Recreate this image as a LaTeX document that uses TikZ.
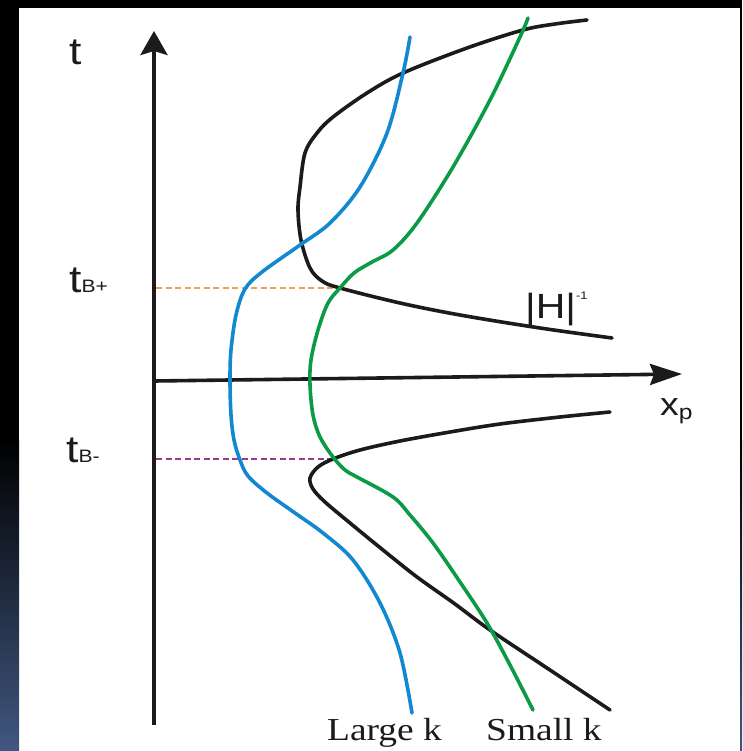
\documentclass[tikz,border=0pt]{standalone}
\usepackage{fontspec}
\setmainfont{Liberation Sans}
\newfontfamily\serifk{Liberation Serif}
\usetikzlibrary{arrows.meta}
\definecolor{ink}{HTML}{1C1A1A}
\definecolor{curveblue}{HTML}{1288D0}
\definecolor{curvegreen}{HTML}{0B9B46}
\definecolor{dashorange}{HTML}{F0A050}
\definecolor{dashpurple}{HTML}{9A3A88}
\definecolor{edgeblue}{RGB}{65,87,128}
\tikzset{
  axisline/.style={draw=ink, line width=3.6pt},
  curve/.style={line width=3.6pt, line cap=round, line join=round},
  hline/.style={line width=2.2pt, dash pattern=on 6pt off 3.5pt},
  lab/.style={inner sep=0pt, text=ink},
}
\newcommand{\hs}[1]{\scalebox{1.17}[1]{#1}}
\begin{document}
\begin{tikzpicture}[x=1pt,y=-1pt]
\useasboundingbox (0,0) rectangle (742,751);
% frame
\fill[white] (0,0) rectangle (742,751);
\fill[black] (0,0) rectangle (742,8);
\fill[black] (0,0) rectangle (19,440);
\shade[top color=black, bottom color=edgeblue] (0,440) rectangle (19,751);
\fill[black] (740,0) rectangle (742,440);
\shade[top color=black, bottom color=edgeblue] (740,440) rectangle (742,751);

% axes
\coordinate (tbot) at (154,725);
\coordinate (ttop) at (154,31);
\coordinate (xo) at (154,381);
\coordinate (xend) at (682,374);
\draw[axisline, -{Stealth[length=24pt,width=27pt,inset=4pt]}] (tbot) -- (ttop);
\draw[axisline, -{Stealth[length=32pt,width=21pt,inset=4pt]}] (xo) -- (xend);

% dashed level lines
\coordinate (tBpAxis) at (156,288);
\coordinate (tBpPt) at (340,288);
\coordinate (tBmAxis) at (156,459);
\coordinate (tBmPt) at (333,459);
\draw[hline, draw=dashorange] (tBpAxis) -- (tBpPt);
\draw[hline, draw=dashpurple] (tBmAxis) -- (tBmPt);

% |H|^-1 curves
\draw[curve, draw=ink] plot[smooth, tension=0.55] coordinates {
 (587,20) (555,24) (523,30) (467,48) (403,73) (367,93) (333,117) (317,133)
 (305,153) (300,187) (298,210) (301,240) (310,268) (322,281) (340,288)
 (400,303) (460,315) (540,328) (612,338)};
\draw[curve, draw=ink] plot[smooth, tension=0.55] coordinates {
 (610,412) (560,417) (500,424) (450,432) (400,441) (360,450) (333,459)
 (318,467) (310,478) (313,489) (325,502) (350,523) (383,550) (417,577)
 (455,604) (490,630) (550,670) (610,710)};

% Large k (blue)
\draw[curve, draw=curveblue] plot[smooth, tension=0.55] coordinates {
 (410,37) (403,73) (387,133) (360,187) (330,223) (300,245) (262,272)
 (245,289) (236,315) (231,350) (230,380) (231,415) (234,440) (240,460)
 (248,476) (267,493) (295,513) (323,533) (353,560) (380,603) (400,653) (412,713)};

% Small k (green)
\draw[curve, draw=curvegreen] plot[smooth, tension=0.55] coordinates {
 (528,18) (520,37) (490,100) (453,167) (417,223) (393,250) (372,262)
 (354,273) (340,288) (328,303) (318,330) (311,360) (310,385) (313,415)
 (320,437) (333,457) (345,470) (357,477) (393,497) (410,515) (433,543)
 (460,582) (487,623) (510,665) (533,710)};

% labels
\node[lab, anchor=base] (tlab) at (76,65) {\hs{\fontsize{38}{38}\selectfont t}};
\node[lab, anchor=base west] (tbplab) at (69,292)
  {\hs{\fontsize{38}{38}\selectfont t\fontsize{18}{18}\selectfont B+}};
\node[lab, anchor=base west] (tbmlab) at (66,462)
  {\hs{\fontsize{38}{38}\selectfont t\fontsize{18}{18}\selectfont B-}};
\node[lab, anchor=base west] (xplab) at (660,415)
  {\hs{\fontsize{32}{32}\selectfont x\raisebox{-4pt}{\fontsize{21}{21}\selectfont p}}};
\node[lab, anchor=base west] (hlab) at (525,318)
  {\hs{\fontsize{35}{35}\selectfont |H|\raisebox{19pt}{\fontsize{11}{11}\selectfont -1}}};
\node[lab, anchor=base west] (largek) at (327,740)
  {\hs{\serifk\fontsize{32}{32}\selectfont Large k}};
\node[lab, anchor=base west] (smallk) at (486,740)
  {\hs{\serifk\fontsize{32}{32}\selectfont Small k}};
\end{tikzpicture}
\end{document}
